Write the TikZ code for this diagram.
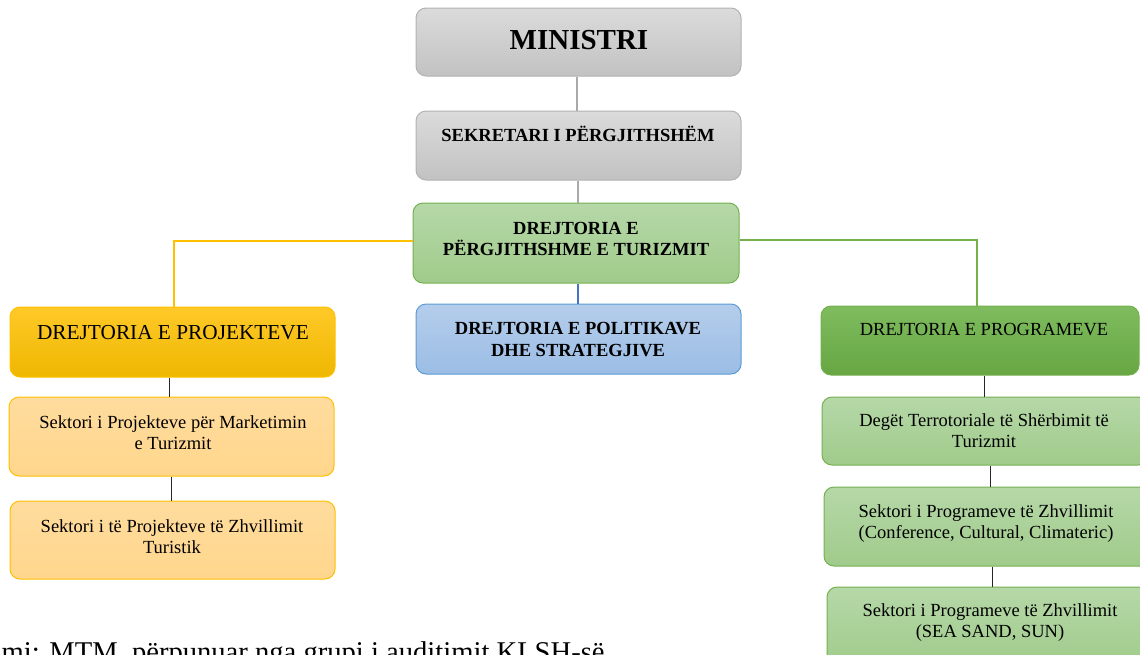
\documentclass[tikz,border=0pt]{standalone}
\usepackage{fontspec}
\setmainfont{Liberation Serif}
\definecolor{grtop}{HTML}{DBDBDB}
\definecolor{grbot}{HTML}{C2C2C2}
\definecolor{grline}{HTML}{A9A9A9}
\definecolor{lgtop}{HTML}{B6D8A8}
\definecolor{lgbot}{HTML}{A0CB8B}
\definecolor{gline}{HTML}{75B04F}
\definecolor{bltop}{HTML}{B5CDEB}
\definecolor{blbot}{HTML}{9BBDE5}
\definecolor{blline}{HTML}{5B9BD5}
\definecolor{blconn}{HTML}{4472C4}
\definecolor{yetop}{HTML}{FFC929}
\definecolor{yebot}{HTML}{EEB700}
\definecolor{yeline}{HTML}{FFC000}
\definecolor{lytop}{HTML}{FFDC9E}
\definecolor{lybot}{HTML}{FFD68C}
\definecolor{dgtop}{HTML}{7EBC5F}
\definecolor{dgbot}{HTML}{67A642}
\tikzset{
  box/.style={draw, rounded corners=10pt, inner sep=0pt, line width=1pt, shading=axis, shading angle=0},
  graybox/.style={box, draw=grline!90, top color=grtop, bottom color=grbot},
  lgbox/.style={box, draw=gline, top color=lgtop, bottom color=lgbot},
  bluebox/.style={box, draw=blline, top color=bltop, bottom color=blbot},
  yelbox/.style={box, draw=yeline, top color=yetop, bottom color=yebot},
  lybox/.style={box, draw=yeline, top color=lytop, bottom color=lybot},
  dgbox/.style={box, draw=gline, top color=dgtop, bottom color=dgbot},
  btxt/.style={align=center, inner sep=0pt, font=\fontsize{18.5}{21.5}\selectfont\bfseries},
  rtxt/.style={align=center, inner sep=0pt, font=\fontsize{18.5}{21}\selectfont},
  conn/.style={line width=1pt, draw=black!85},
}
\begin{document}
\begin{tikzpicture}[x=1pt,y=-1pt]
\useasboundingbox (0,0) rectangle (1140,654);
\clip (0,0) rectangle (1140,654);
% top chain
\node[graybox, minimum width=325pt, minimum height=68pt] (min) at (578.5,42) {};
\node[graybox, minimum width=325pt, minimum height=69pt] (sek) at (578.5,145.5) {};
\node[lgbox, minimum width=326pt, minimum height=80pt] (dpt) at (576,243) {};
\node[bluebox, minimum width=325pt, minimum height=70pt] (dps) at (578.5,339) {};
% left
\node[yelbox, minimum width=325pt, minimum height=70pt] (dprj) at (172.5,342) {};
\node[lybox, minimum width=325pt, minimum height=79pt] (s1) at (171.5,436.5) {};
\node[lybox, minimum width=325pt, minimum height=78pt] (s2) at (172.5,540) {};
% right
\node[dgbox, minimum width=318pt, minimum height=69pt] (dprg) at (980,340.5) {};
\node[lgbox, minimum width=326pt, minimum height=68pt] (s3) at (985,431) {};
\node[lgbox, minimum width=326pt, minimum height=79pt] (s4) at (987,526.5) {};
\node[lgbox, minimum width=326pt, minimum height=80pt] (s5) at (990,627) {};
% texts
\node[btxt, font=\fontsize{29}{32}\selectfont\bfseries] (tmin) at (579,40) {MINISTRI};
\node[btxt] (tsek) at (578,134) {SEKRETARI I PËRGJITHSHËM};
\node[btxt] (tdpt) at (576,239) {DREJTORIA E\\PËRGJITHSHME E TURIZMIT};
\node[btxt] (tdps) at (578,339.5) {DREJTORIA E POLITIKAVE\\DHE STRATEGJIVE};
\node[rtxt, font=\fontsize{21.3}{24}\selectfont] (tdprj) at (173,333) {DREJTORIA E PROJEKTEVE};
\node[rtxt] (ts1) at (173,433) {Sektori i Projekteve për Marketimin\\e Turizmit};
\node[rtxt] (ts2) at (172,537) {Sektori i të Projekteve të Zhvillimit\\Turistik};
\node[rtxt] (tdprg) at (984,330) {DREJTORIA E PROGRAMEVE};
\node[rtxt] (ts3) at (984,430.5) {Degët Terrotoriale të Shërbimit të\\Turizmit};
\node[rtxt] (ts4) at (986,523.5) {Sektori i Programeve të Zhvillimit\\(Conference, Cultural, Climateric)};
\node[rtxt] (ts5) at (990,622.5) {Sektori i Programeve të Zhvillimit\\(SEA SAND, SUN)};
\node[anchor=base west, inner sep=0pt, font=\fontsize{28.6}{32}\selectfont] (src) at (1.5,661) {mi: MTM, përpunuar nga grupi i auditimit KLSH-së};
% connectors
\draw[line width=2pt, grline] ([xshift=-1.5pt]min.south) -- ([xshift=-1.5pt]sek.north);
\draw[line width=2pt, grline] ([xshift=-0.5pt]sek.south) -- ([xshift=2pt]dpt.north);
\draw[line width=2pt, blconn] ([xshift=2pt]dpt.south) -- ([xshift=-0.5pt]dps.north);
\draw[line width=2.5pt, yeline] ([yshift=2pt]dpt.west) -| ([xshift=1.5pt]dprj.north);
\draw[line width=2pt, gline] ([yshift=3pt]dpt.east) -| ([xshift=-3pt]dprg.north);
\draw[conn] ([xshift=-3.5pt]dprj.south) -- ([xshift=-2.5pt]s1.north);
\draw[conn] ([xshift=-0.5pt]s1.south) -- ([xshift=-1.5pt]s2.north);
\draw[conn] ([xshift=4pt]dprg.south) -- ([xshift=-1pt]s3.north);
\draw[conn] ([xshift=5pt]s3.south) -- ([xshift=3pt]s4.north);
\draw[conn] ([xshift=5pt]s4.south) -- ([xshift=2pt]s5.north);
\end{tikzpicture}
\end{document}
